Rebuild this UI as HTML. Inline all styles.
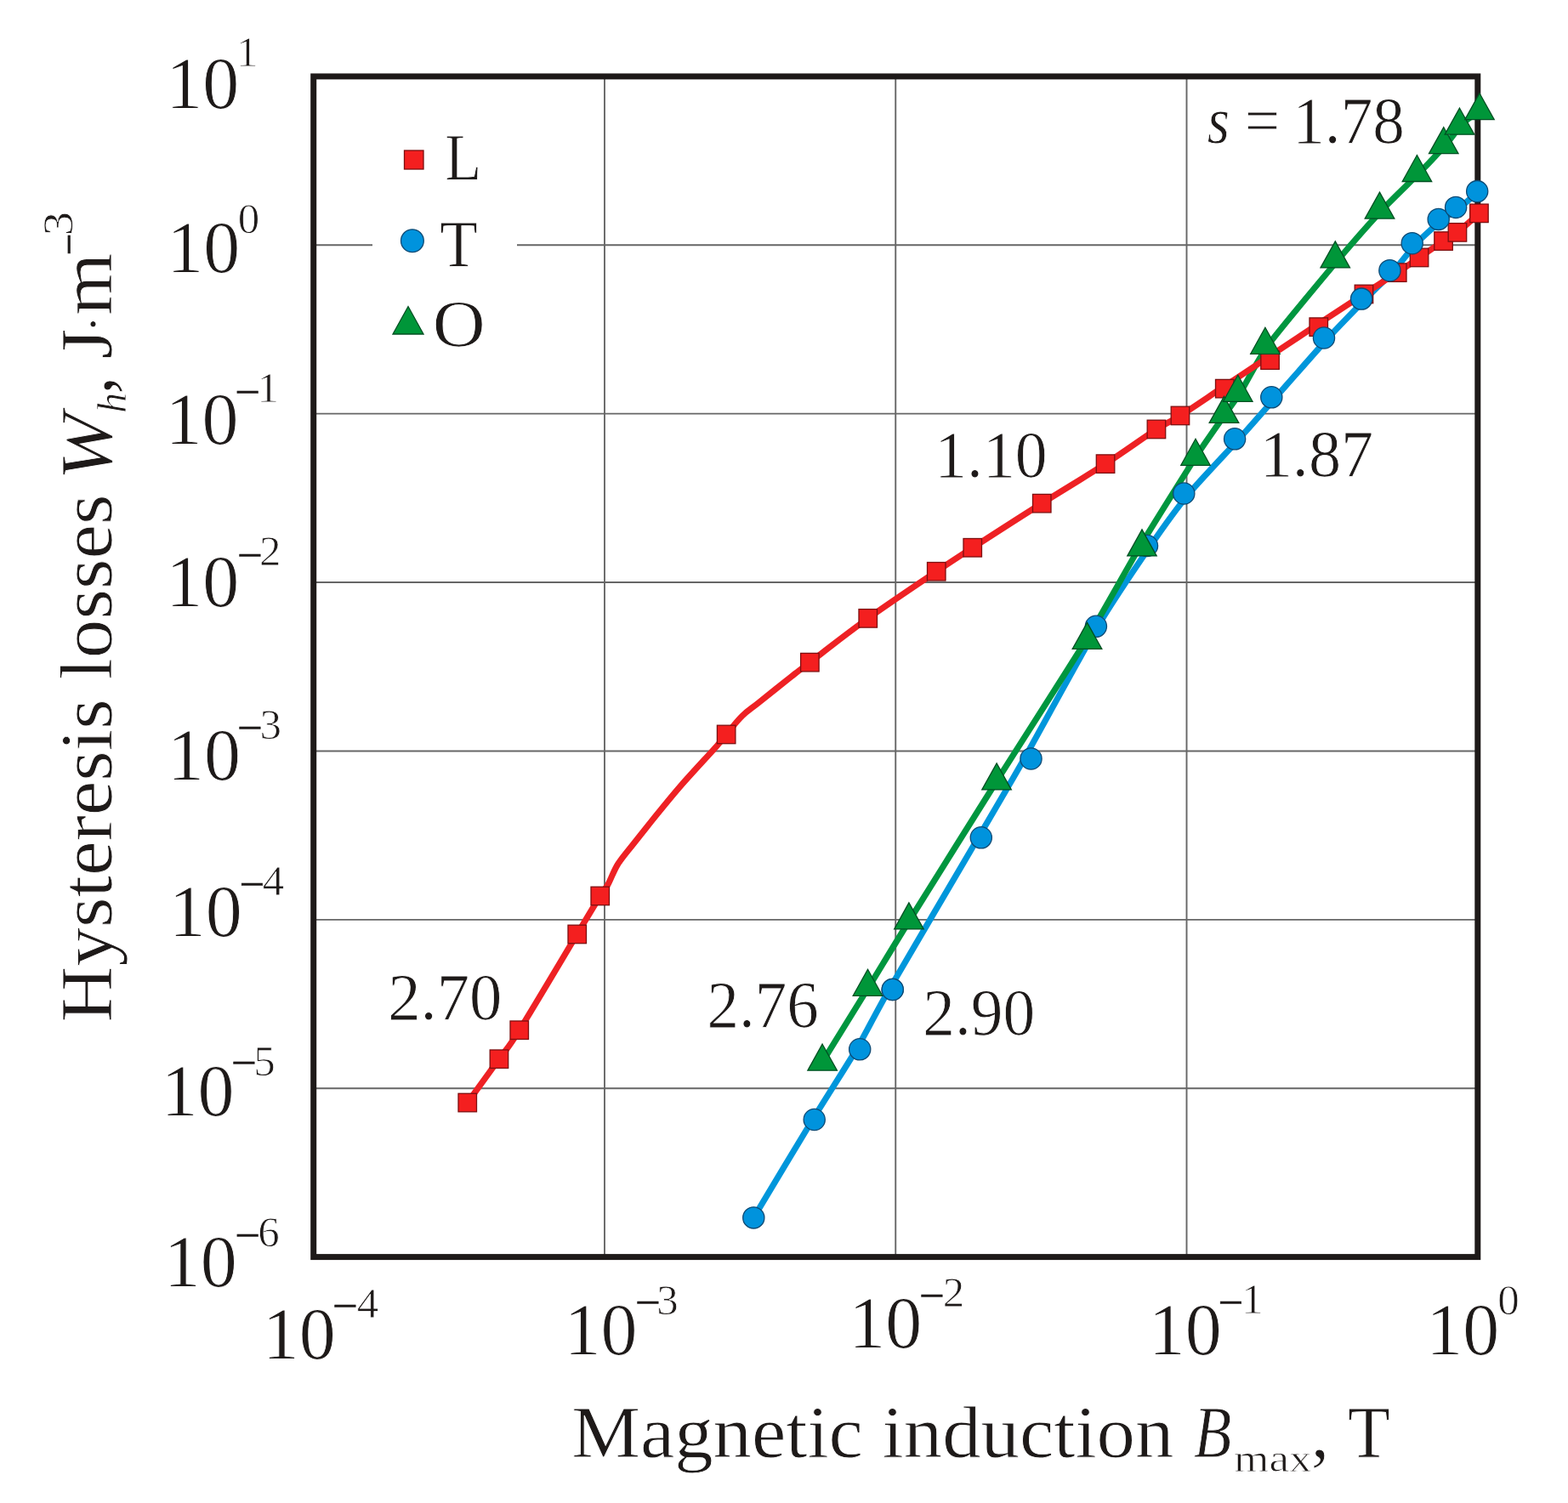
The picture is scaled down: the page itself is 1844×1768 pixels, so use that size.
<!DOCTYPE html>
<html><head><meta charset="utf-8"><title>Hysteresis losses vs magnetic induction</title>
<style>
html,body{margin:0;padding:0;background:#fff;}
body{width:1844px;height:1768px;overflow:hidden;}
svg{display:block;}
text{font-kerning:none;}
</style></head>
<body>
<svg width="1844" height="1768" viewBox="0 0 1844 1768">
<rect width="1844" height="1768" fill="#fff"/>
<g stroke="#666" stroke-width="1.9" fill="none">
<line x1="710.97" y1="89.90" x2="710.97" y2="1478.60"/>
<line x1="1053.25" y1="89.90" x2="1053.25" y2="1478.60"/>
<line x1="1395.52" y1="89.90" x2="1395.52" y2="1478.60"/>
<line x1="368.70" y1="288.29" x2="1737.80" y2="288.29"/>
<line x1="368.70" y1="486.67" x2="1737.80" y2="486.67"/>
<line x1="368.70" y1="685.06" x2="1737.80" y2="685.06"/>
<line x1="368.70" y1="883.44" x2="1737.80" y2="883.44"/>
<line x1="368.70" y1="1081.83" x2="1737.80" y2="1081.83"/>
<line x1="368.70" y1="1280.21" x2="1737.80" y2="1280.21"/>
</g>
<rect x="438" y="150" width="170" height="270" fill="#fff"/>
<rect x="368.70" y="89.90" width="1369.10" height="1388.70" fill="none" stroke="#1e1a19" stroke-width="7"/>
<g fill="#1e1a19" font-family='"Liberation Serif", serif' stroke="#fff" stroke-width="0.8">
<text x="195.34" y="126.50" font-size="86.00" >10</text>
<text x="278.12" y="78.20" font-size="51.00" >1</text>
<text x="196.14" y="319.90" font-size="86.00" >10</text>
<text x="279.86" y="273.50" font-size="51.00" >0</text>
<text x="194.44" y="521.80" font-size="86.00" >10</text>
<text x="276.58" y="477.63" font-size="51.00" textLength="29.69" lengthAdjust="spacingAndGlyphs" stroke="#1e1a19" stroke-width="0.6">−</text>
<text x="302.52" y="473.40" font-size="51.00" >1</text>
<text x="195.34" y="712.60" font-size="86.00" >10</text>
<text x="279.18" y="670.13" font-size="51.00" textLength="29.69" lengthAdjust="spacingAndGlyphs" stroke="#1e1a19" stroke-width="0.6">−</text>
<text x="304.96" y="665.10" font-size="51.00" >2</text>
<text x="197.04" y="916.70" font-size="86.00" >10</text>
<text x="279.18" y="872.53" font-size="51.00" textLength="29.69" lengthAdjust="spacingAndGlyphs" stroke="#1e1a19" stroke-width="0.6">−</text>
<text x="305.56" y="868.50" font-size="51.00" >3</text>
<text x="198.74" y="1100.70" font-size="86.00" >10</text>
<text x="281.68" y="1056.63" font-size="51.00" textLength="29.69" lengthAdjust="spacingAndGlyphs" stroke="#1e1a19" stroke-width="0.6">−</text>
<text x="308.80" y="1053.20" font-size="51.00" >4</text>
<text x="189.44" y="1311.60" font-size="86.00" >10</text>
<text x="272.38" y="1267.43" font-size="51.00" textLength="29.69" lengthAdjust="spacingAndGlyphs" stroke="#1e1a19" stroke-width="0.6">−</text>
<text x="298.34" y="1264.50" font-size="51.00" >5</text>
<text x="192.84" y="1512.60" font-size="86.00" >10</text>
<text x="276.58" y="1470.13" font-size="51.00" textLength="29.69" lengthAdjust="spacingAndGlyphs" stroke="#1e1a19" stroke-width="0.6">−</text>
<text x="303.31" y="1466.30" font-size="51.00" >6</text>
<text x="308.74" y="1597.60" font-size="86.00" >10</text>
<text x="391.18" y="1552.93" font-size="51.00" textLength="29.69" lengthAdjust="spacingAndGlyphs" stroke="#1e1a19" stroke-width="0.6">−</text>
<text x="419.70" y="1550.20" font-size="51.00" >4</text>
<text x="663.54" y="1593.30" font-size="86.00" >10</text>
<text x="747.18" y="1548.93" font-size="51.00" textLength="29.69" lengthAdjust="spacingAndGlyphs" stroke="#1e1a19" stroke-width="0.6">−</text>
<text x="772.26" y="1545.60" font-size="51.00" >3</text>
<text x="998.14" y="1585.10" font-size="86.00" >10</text>
<text x="1081.18" y="1541.33" font-size="51.00" textLength="29.69" lengthAdjust="spacingAndGlyphs" stroke="#1e1a19" stroke-width="0.6">−</text>
<text x="1108.76" y="1537.40" font-size="51.00" >2</text>
<text x="1350.84" y="1592.70" font-size="86.00" >10</text>
<text x="1432.78" y="1548.93" font-size="51.00" textLength="29.69" lengthAdjust="spacingAndGlyphs" stroke="#1e1a19" stroke-width="0.6">−</text>
<text x="1460.22" y="1545.00" font-size="51.00" >1</text>
<text x="1677.14" y="1592.80" font-size="86.00" >10</text>
<text x="1761.36" y="1545.70" font-size="51.00" >0</text>
</g>
<g fill="#1e1a19" font-family='"Liberation Serif", serif' stroke="#fff" stroke-width="0.8">
<text x="672.19" y="1714.30" font-size="86.00" textLength="708.19" lengthAdjust="spacingAndGlyphs" >Magnetic induction</text>
<text x="1404.03" y="1714.00" font-size="86.00" textLength="44.26" lengthAdjust="spacingAndGlyphs" font-style="italic" >B</text>
<text x="1451.08" y="1730.80" font-size="47.00" textLength="91.57" lengthAdjust="spacingAndGlyphs" >max</text>
<text x="1541.72" y="1714.00" font-size="86.00" >,</text>
<text x="1584.93" y="1714.00" font-size="86.00" textLength="49.72" lengthAdjust="spacingAndGlyphs" >T</text>
<g transform="translate(130.50,1199.80) rotate(-90)">
<text x="-2.63" y="0.00" font-size="86.00" textLength="620.82" lengthAdjust="spacingAndGlyphs" >Hysteresis losses</text>
<text x="634.86" y="0.00" font-size="86.00" textLength="78.88" lengthAdjust="spacingAndGlyphs" font-style="italic" >W</text>
<text x="713.75" y="17.00" font-size="48.00" textLength="24.15" lengthAdjust="spacingAndGlyphs" font-style="italic" >h</text>
<text x="735.82" y="0.00" font-size="86.00" >,</text>
<text x="777.48" y="0.00" font-size="86.00" textLength="35.65" lengthAdjust="spacingAndGlyphs" >J</text>
<text x="808.55" y="-1.50" font-size="60.00" >·</text>
<text x="828.82" y="0.00" font-size="86.00" textLength="73.46" lengthAdjust="spacingAndGlyphs" >m</text>
<text stroke="#1e1a19" stroke-width="0.6" x="899.75" y="-32.87" font-size="51.00" textLength="25.45" lengthAdjust="spacingAndGlyphs" >−</text>
<text x="922.59" y="-46.00" font-size="51.00" textLength="28.32" lengthAdjust="spacingAndGlyphs" >3</text>
</g>
</g>
<g fill="#1e1a19" font-family='"Liberation Serif", serif' stroke="#fff" stroke-width="0.8">
<text x="1419.68" y="168.20" font-size="78.00" textLength="26.27" lengthAdjust="spacingAndGlyphs" font-style="italic" >s</text>
<text x="1463.75" y="168.20" font-size="78.00" textLength="41.33" lengthAdjust="spacingAndGlyphs" >=</text>
<text x="1520.29" y="168.20" font-size="78.00" textLength="131.57" lengthAdjust="spacingAndGlyphs" >1.78</text>
<text x="1099.14" y="561.40" font-size="78.00" textLength="132.54" lengthAdjust="spacingAndGlyphs" >1.10</text>
<text x="1481.70" y="559.80" font-size="78.00" textLength="133.50" lengthAdjust="spacingAndGlyphs" >1.87</text>
<text x="456.13" y="1199.40" font-size="78.00" textLength="134.30" lengthAdjust="spacingAndGlyphs" >2.70</text>
<text x="831.50" y="1208.00" font-size="78.00" textLength="131.33" lengthAdjust="spacingAndGlyphs" >2.76</text>
<text x="1085.29" y="1216.80" font-size="78.00" textLength="131.99" lengthAdjust="spacingAndGlyphs" >2.90</text>
<text x="523.27" y="211.00" font-size="78.00" textLength="42.95" lengthAdjust="spacingAndGlyphs" >L</text>
<text x="517.18" y="312.60" font-size="78.00" textLength="44.53" lengthAdjust="spacingAndGlyphs" >T</text>
<text x="508.88" y="407.00" font-size="78.00" textLength="61.94" lengthAdjust="spacingAndGlyphs" >O</text>
</g>
<g fill="none" stroke-width="7.2" stroke-linejoin="round" stroke-linecap="round">
<path stroke="#0096db" d="M886.3,1432.4 C893.2,1420.9 943.6,1336.8 955.7,1317.0 C967.8,1297.2 998.2,1249.6 1007.2,1234.3 C1016.2,1219.0 1031.4,1188.9 1045.7,1164.0 C1060.0,1139.1 1134.6,1012.4 1150.5,985.3 C1166.4,958.1 1190.5,917.4 1204.5,892.5 C1218.5,867.6 1276.2,761.8 1291.0,736.8 C1305.8,711.8 1342.3,657.6 1353.0,642.0 C1363.7,626.4 1387.9,593.1 1398.3,580.5 C1408.7,567.9 1446.9,527.6 1457.1,516.3 C1467.3,505.0 1489.8,479.2 1500.3,467.3 C1510.8,455.4 1551.4,409.1 1562.0,397.5 C1572.6,385.9 1598.4,359.5 1606.1,351.6 C1613.8,343.7 1633.4,324.7 1639.4,318.2 C1645.4,311.7 1660.0,292.2 1665.7,286.2 C1671.4,280.2 1691.6,262.1 1696.7,257.9 C1701.8,253.7 1712.9,247.2 1717.1,243.9 C1721.3,240.6 1736.8,227.0 1739.0,225.1"/>
<path stroke="#00963f" d="M968.6,1246.8 C974.0,1238.0 1012.8,1175.5 1023.0,1158.9 C1033.2,1142.3 1055.8,1104.7 1070.9,1080.5 C1086.0,1056.3 1152.8,949.5 1173.6,916.5 C1194.4,883.5 1261.7,778.5 1278.5,751.0 C1295.3,723.5 1328.5,663.1 1341.5,641.5 C1354.5,619.9 1397.9,550.5 1408.0,534.9 C1418.1,519.2 1437.3,492.5 1442.5,485.0 C1447.7,477.5 1454.8,468.0 1459.8,459.9 C1464.8,451.8 1481.2,419.6 1492.9,403.9 C1504.6,388.2 1562.8,318.4 1576.3,302.5 C1589.8,286.6 1618.0,254.8 1627.5,244.7 C1637.0,234.6 1664.0,208.7 1671.4,201.1 C1678.8,193.5 1697.0,173.8 1701.8,168.3 C1706.6,162.8 1715.5,149.8 1719.5,145.8 C1723.5,141.8 1739.8,130.1 1742.0,128.3"/>
<path stroke="#ee2124" d="M549.7,1297.1 C555.9,1288.5 576.8,1259.9 587.0,1245.7 C597.2,1231.5 595.5,1236.3 610.8,1211.8 C626.1,1187.3 662.9,1125.2 678.7,1098.9 C694.5,1072.6 699.7,1063.8 705.8,1054.0 C711.9,1044.2 711.8,1046.2 715.2,1040.0 C718.7,1033.8 721.5,1024.6 726.5,1016.7 C731.5,1008.8 737.1,1002.6 744.9,992.7 C752.7,982.8 763.8,968.8 773.2,957.3 C782.6,945.8 789.9,936.6 801.4,923.4 C812.9,910.2 833.7,888.0 842.5,878.1 C851.3,868.2 849.0,870.0 854.1,864.0 C859.2,858.0 866.6,848.2 873.0,842.0 C879.4,835.8 882.7,834.2 892.3,826.5 C901.9,818.8 920.8,803.7 930.8,795.8 C940.8,787.9 937.4,790.5 952.4,779.1 C967.4,767.7 996.0,745.2 1020.8,727.4 C1045.6,709.6 1080.8,686.1 1101.3,672.3 C1121.8,658.4 1123.1,657.7 1143.8,644.3 C1164.5,630.9 1199.2,608.5 1225.3,592.1 C1251.3,575.7 1277.7,560.1 1300.1,545.6 C1322.5,531.1 1345.3,514.4 1359.9,505.0 C1374.5,495.6 1374.5,497.5 1387.9,489.0 C1401.3,480.5 1422.7,465.8 1440.3,454.1 C1457.9,442.4 1475.2,431.0 1493.6,418.8 C1512.0,406.6 1532.4,392.9 1550.8,380.8 C1569.2,368.7 1588.5,356.0 1603.9,346.0 C1619.3,336.0 1632.3,327.8 1643.2,320.6 C1654.1,313.4 1660.0,309.2 1669.1,303.0 C1678.2,296.8 1690.1,288.4 1697.6,283.5 C1705.1,278.6 1706.9,278.8 1713.9,273.4 C1720.9,267.9 1735.2,254.6 1739.4,250.8"/>
</g>
<g fill="#f41f1f" stroke="#7d0f10" stroke-width="1.3">
<rect x="539.0" y="1286.3" width="21.5" height="21.5"/>
<rect x="576.2" y="1235.0" width="21.5" height="21.5"/>
<rect x="600.0" y="1201.0" width="21.5" height="21.5"/>
<rect x="668.0" y="1088.2" width="21.5" height="21.5"/>
<rect x="695.0" y="1043.2" width="21.5" height="21.5"/>
<rect x="843.4" y="853.2" width="21.5" height="21.5"/>
<rect x="941.6" y="768.4" width="21.5" height="21.5"/>
<rect x="1010.0" y="716.6" width="21.5" height="21.5"/>
<rect x="1090.5" y="661.5" width="21.5" height="21.5"/>
<rect x="1133.0" y="633.5" width="21.5" height="21.5"/>
<rect x="1214.5" y="581.4" width="21.5" height="21.5"/>
<rect x="1289.3" y="534.9" width="21.5" height="21.5"/>
<rect x="1349.2" y="494.2" width="21.5" height="21.5"/>
<rect x="1377.2" y="478.2" width="21.5" height="21.5"/>
<rect x="1429.5" y="446.4" width="21.5" height="21.5"/>
<rect x="1482.8" y="412.9" width="21.5" height="21.5"/>
<rect x="1540.0" y="373.9" width="21.5" height="21.5"/>
<rect x="1593.2" y="335.2" width="21.5" height="21.5"/>
<rect x="1632.5" y="309.9" width="21.5" height="21.5"/>
<rect x="1658.3" y="292.2" width="21.5" height="21.5"/>
<rect x="1686.8" y="272.8" width="21.5" height="21.5"/>
<rect x="1703.2" y="262.6" width="21.5" height="21.5"/>
<rect x="1728.7" y="240.1" width="21.5" height="21.5"/>
</g>
<g fill="#0093dd" stroke="#0d4a74" stroke-width="1.3">
<circle cx="886.3" cy="1432.4" r="12.6"/>
<circle cx="957.7" cy="1317.0" r="12.6"/>
<circle cx="1011.2" cy="1234.3" r="12.6"/>
<circle cx="1049.7" cy="1164.0" r="12.6"/>
<circle cx="1153.8" cy="985.3" r="12.6"/>
<circle cx="1212.5" cy="892.5" r="12.6"/>
<circle cx="1288.9" cy="736.8" r="12.6"/>
<circle cx="1349.0" cy="642.0" r="12.6"/>
<circle cx="1392.3" cy="580.5" r="12.6"/>
<circle cx="1452.1" cy="516.3" r="12.6"/>
<circle cx="1495.3" cy="467.3" r="12.6"/>
<circle cx="1557.0" cy="397.5" r="12.6"/>
<circle cx="1601.1" cy="351.6" r="12.6"/>
<circle cx="1634.4" cy="318.2" r="12.6"/>
<circle cx="1660.7" cy="286.2" r="12.6"/>
<circle cx="1691.7" cy="257.9" r="12.6"/>
<circle cx="1712.1" cy="243.9" r="12.6"/>
<circle cx="1737.2" cy="225.1" r="12.6"/>
</g>
<g fill="#009639" stroke="#004f22" stroke-width="1.3" stroke-linejoin="miter">
<path d="M967.1,1228.2 L984.4,1259.2 L949.9,1259.2 Z"/>
<path d="M1020.5,1140.3 L1037.8,1171.3 L1003.2,1171.3 Z"/>
<path d="M1068.9,1061.9 L1086.2,1092.9 L1051.7,1092.9 Z"/>
<path d="M1172.1,897.9 L1189.3,928.9 L1154.8,928.9 Z"/>
<path d="M1278.5,732.4 L1295.8,763.4 L1261.2,763.4 Z"/>
<path d="M1343.0,622.9 L1360.2,653.9 L1325.8,653.9 Z"/>
<path d="M1406.0,516.3 L1423.2,547.3 L1388.8,547.3 Z"/>
<path d="M1439.5,466.4 L1456.8,497.4 L1422.2,497.4 Z"/>
<path d="M1455.8,441.3 L1473.0,472.3 L1438.5,472.3 Z"/>
<path d="M1487.9,385.3 L1505.2,416.3 L1470.7,416.3 Z"/>
<path d="M1570.3,283.9 L1587.5,314.9 L1553.0,314.9 Z"/>
<path d="M1622.5,226.1 L1639.8,257.1 L1605.2,257.1 Z"/>
<path d="M1666.4,182.5 L1683.7,213.5 L1649.2,213.5 Z"/>
<path d="M1697.8,149.7 L1715.0,180.7 L1680.5,180.7 Z"/>
<path d="M1716.5,127.2 L1733.8,158.2 L1699.2,158.2 Z"/>
<path d="M1740.0,109.7 L1757.2,140.7 L1722.8,140.7 Z"/>
</g>
<circle cx="1049.7" cy="1164.0" r="12.6" fill="#0093dd" stroke="#0d4a74" stroke-width="1.3"/>
<rect x="475.5" y="177.0" width="22.5" height="22" fill="#f41f1f" stroke="#7d0f10" stroke-width="1.3"/>
<circle cx="484.9" cy="283.2" r="13.4" fill="#0093dd" stroke="#0d4a74" stroke-width="1.3"/>
<path d="M480.0,360.5 L498.0,393.0 L462.0,393.0 Z" fill="#009639" stroke="#004f22" stroke-width="1.3"/>
</svg>
</body></html>
